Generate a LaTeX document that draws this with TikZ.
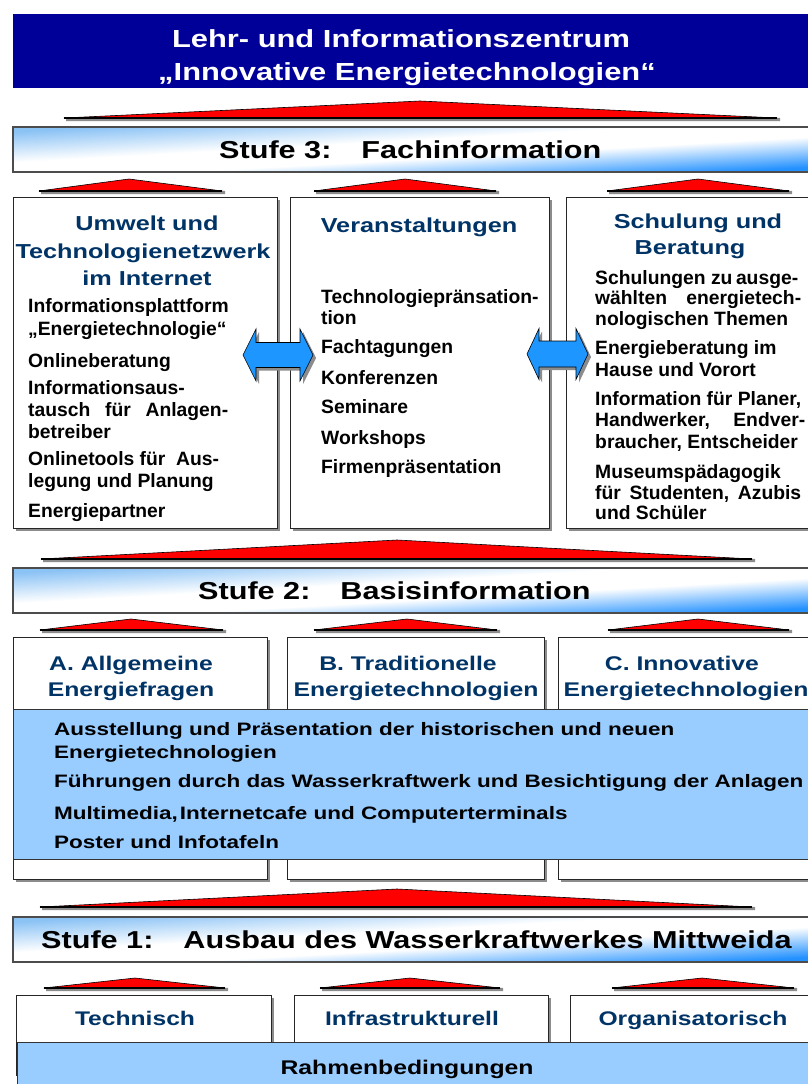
\documentclass[tikz,border=0pt]{standalone}
\usepackage{fontspec}
\setmainfont{Liberation Sans}
\newfontfamily\widefont{Liberation Sans}[FakeStretch=1.25]
\definecolor{navy}{RGB}{0,0,153}
\definecolor{titleblue}{RGB}{0,51,102}
\definecolor{bandblue}{RGB}{153,204,255}
\definecolor{barlight}{RGB}{140,195,245}
\definecolor{bardark}{RGB}{35,145,255}
\definecolor{arrowblue}{RGB}{30,150,255}
\pgfdeclareverticalshading{barshade}{100bp}{color(0bp)=(bardark); color(29bp)=(bardark); color(45bp)=(white); color(55bp)=(white); color(71bp)=(barlight); color(100bp)=(barlight)}
\newcommand{\fsz}[1]{\fontsize{#1}{#1}\selectfont}
\newcommand{\redtri}[5]{%
  \fill[black!45] (#3+2,#5) -- (#1,#2+2) -- (#4+3,#5) -- (#4+3,#5+3) -- (#3+2,#5+3) -- cycle;
  \filldraw[fill=red, draw=black, line width=0.6pt] (#3,#5) -- (#1,#2) -- (#4,#5) -- cycle;
  \draw[line width=1.5pt] (#3,#5) -- (#4,#5);}
\newcommand{\dblarrow}[7]{% cx cy L h H S name
  \begin{scope}
  \fill[black!45, shift={(3,3)}] (#1-#3,#2) -- (#1-#3+#4,#2-#5) -- (#1-#3+#4,#2-#6) -- (#1+#3-#4,#2-#6) -- (#1+#3-#4,#2-#5) -- (#1+#3,#2) -- (#1+#3-#4,#2+#5) -- (#1+#3-#4,#2+#6) -- (#1-#3+#4,#2+#6) -- (#1-#3+#4,#2+#5) -- cycle;
  \filldraw[fill=arrowblue, draw=black, line width=0.6pt] (#1-#3,#2) -- (#1-#3+#4,#2-#5) -- (#1-#3+#4,#2-#6) -- (#1+#3-#4,#2-#6) -- (#1+#3-#4,#2-#5) -- (#1+#3,#2) -- (#1+#3-#4,#2+#5) -- (#1+#3-#4,#2+#6) -- (#1-#3+#4,#2+#6) -- (#1-#3+#4,#2+#5) -- cycle;
  \coordinate (#7) at (#1,#2);
  \end{scope}}
\newcommand{\gradbar}[5]{% x y w h name
  \begin{scope}
    \clip (#1,#2) rectangle ++(#3,#4);
    \begin{scope}[transform canvas={shift={({#1+#3/2},{#2+#4/2})}, yslant=0.056}]
      \shade[shading=barshade] (-420,-47.5) rectangle (420,47.5);
    \end{scope}
  \end{scope}
  \node[rect, draw=black!70, line width=1.1pt, minimum width=#3pt, minimum height=#4pt] (#5) at (#1,#2) {};}
\tikzset{
  shadowed/.style={preaction={fill=black!45, transform canvas={xshift=2.5pt,yshift=-2.5pt}}},
  rect/.style={anchor=north west, inner sep=0pt, outer sep=0pt},
  box/.style={rect, shadowed, draw=black!85, line width=0.8pt, fill=white},
  band/.style={rect, draw=black!80, line width=0.8pt, fill=bandblue},
  titleband/.style={rect, fill=navy},
  item/.style={anchor=base west, inner sep=0pt, font=\bfseries\fsz{19.3}},
  btitle/.style={anchor=base, inner sep=0pt, text=titleblue, font=\widefont\bfseries\fsz{20.2}},
  stitle/.style={anchor=base west, inner sep=0pt, font=\widefont\bfseries\fsz{24.5}},
  bitem/.style={anchor=base west, inner sep=0pt, font=\widefont\bfseries\fsz{18}},
  htitle/.style={anchor=base, inner sep=0pt, text=white, font=\widefont\bfseries\fsz{24.7}},
}
\begin{document}
\begin{tikzpicture}[x=1pt,y=-1pt]
\useasboundingbox (0,0) rectangle (808,1084);
\clip (0,0) rectangle (808,1084);
\fill[white] (0,0) rectangle (808,1084);

% title
\node[titleband, minimum width=800pt, minimum height=74pt] (title) at (13,14) {};
\node[htitle] (t1) at (401,47) {Lehr- und Informationszentrum};
\node[htitle] (t2) at (407,80) {„Innovative Energietechnologien“};

% Stufe 3
\redtri{420}{101}{64}{777}{118}
\gradbar{13}{127}{799}{45}{s3}
\node[stitle] (s3t) at (219,158) {Stufe 3:\hspace{30pt}Fachinformation};
\redtri{129}{179}{39}{222}{191}
\redtri{405}{179}{314}{496}{191}
\redtri{698}{179}{607}{789}{191}

\node[box, minimum width=264pt, minimum height=331pt] (b31) at (13,197) {};
\node[box, minimum width=259pt, minimum height=331pt] (b32) at (290,197) {};
\node[box, minimum width=260pt, minimum height=331pt] (b33) at (566,197) {};

% box 1
\node[btitle] at (147,230) {Umwelt und};
\node[btitle] at (143,258) {Technologienetzwerk};
\node[btitle] at (147,285) {im Internet};
\node[item] at (28,312) {Informationsplattform};
\node[item] at (28,335) {„Energietechnologie“};
\node[item] at (28,367) {Onlineberatung};
\node[item] at (28,394) {Informationsaus-};
\node[item] at (28,416) {\hbox to 200pt{tausch\hfil für\hfil Anlagen-}};
\node[item] at (28,438) {betreiber};
\node[item] at (28,465) {Onlinetools für\ \ Aus-};
\node[item] at (28,487) {legung und Planung};
\node[item] at (28,517) {Energiepartner};

% box 2
\node[btitle] at (419,232) {Veranstaltungen};
\node[item] at (321,303) {Technologiepränsation-};
\node[item] at (321,324) {tion};
\node[item] at (321,353) {Fachtagungen};
\node[item] at (321,384) {Konferenzen};
\node[item] at (321,413) {Seminare};
\node[item] at (321,444) {Workshops};
\node[item] at (321,473) {Firmenpräsentation};

% box 3
\node[btitle] at (698,228) {Schulung und};
\node[btitle] at (690,254) {Beratung};
\node[item] at (595,284) {\hbox to 203pt{Schulungen zu\hfil ausge-}};
\node[item] at (595,304) {\hbox to 206pt{wählten\hfil energietech-}};
\node[item] at (595,325) {nologischen Themen};
\node[item] at (595,354) {Energieberatung im};
\node[item] at (595,376) {Hause und Vorort};
\node[item] at (595,405) {Information für Planer,};
\node[item] at (595,426) {\hbox to 210pt{Handwerker,\hfil Endver-}};
\node[item] at (595,448) {braucher, Entscheider};
\node[item] at (595,478) {Museumspädagogik};
\node[item] at (595,499) {\hbox to 206pt{für\hfil Studenten,\hfil Azubis}};
\node[item] at (595,519) {und Schüler};

% double arrows
\dblarrow{278}{355}{35}{13}{26}{12.5}{a1}
\dblarrow{557.5}{354}{30.5}{12}{25.5}{13}{a2}

% Stufe 2
\redtri{397}{540}{41}{752}{559}
\gradbar{13}{568}{799}{45}{s2}
\node[stitle] (s2t) at (198,599) {Stufe 2:\hspace{30pt}Basisinformation};
\redtri{131}{619}{40}{223}{630}
\redtri{407}{619}{314}{497}{630}
\redtri{698}{619}{608}{789}{630}

\node[box, minimum width=254pt, minimum height=242pt] (b21) at (13,637) {};
\node[box, minimum width=257pt, minimum height=242pt] (b22) at (287,637) {};
\node[box, minimum width=268pt, minimum height=242pt] (b23) at (558,637) {};
\node[btitle, font=\widefont\bfseries\fsz{19.8}] at (131,670) {A. Allgemeine};
\node[btitle, font=\widefont\bfseries\fsz{19.8}] at (131,696) {Energiefragen};
\node[btitle, font=\widefont\bfseries\fsz{19.8}] at (408,670) {B. Traditionelle};
\node[btitle, font=\widefont\bfseries\fsz{19.8}] at (416,696) {Energietechnologien};
\node[btitle, font=\widefont\bfseries\fsz{19.8}] at (682,670) {C. Innovative};
\node[btitle, font=\widefont\bfseries\fsz{19.8}] at (686,696) {Energietechnologien};

\node[band, minimum width=799pt, minimum height=150pt] (band2) at (13,709) {};
\node[bitem] at (54,735) {Ausstellung und Präsentation der historischen und neuen};
\node[bitem] at (54,758) {Energietechnologien};
\node[bitem] at (54,787) {Führungen durch das Wasserkraftwerk und Besichtigung der Anlagen};
\node[bitem] at (54,819) {Multimedia,\kern2pt Internetcafe und Computerterminals};
\node[bitem] at (54,848) {Poster und Infotafeln};

% Stufe 1
\redtri{397}{889}{40}{752}{907}
\gradbar{13}{917}{799}{45}{s1}
\node[stitle] (s1t) at (41,948) {Stufe 1:\hspace{30pt}Ausbau des Wasserkraftwerkes Mittweida};
\redtri{135}{978}{44}{225}{988}
\redtri{410}{978}{320}{500}{988}
\redtri{702}{978}{612}{794}{988}

\node[box, minimum width=255pt, minimum height=80pt] (c1) at (16,995) {};
\node[box, minimum width=254pt, minimum height=80pt] (c2) at (294,995) {};
\node[box, minimum width=256pt, minimum height=80pt] (c3) at (570,995) {};
\node[btitle, font=\widefont\bfseries\fsz{19.7}] at (135,1025) {Technisch};
\node[btitle, font=\widefont\bfseries\fsz{19.7}] at (412,1025) {Infrastrukturell};
\node[btitle, font=\widefont\bfseries\fsz{19.7}] at (693,1025) {Organisatorisch};

\node[band, minimum width=800pt, minimum height=60pt] (band1) at (17,1042) {};
\node[anchor=base, inner sep=0pt, font=\widefont\bfseries\fsz{19.8}] at (407,1074) {Rahmenbedingungen};
\end{tikzpicture}
\end{document}
